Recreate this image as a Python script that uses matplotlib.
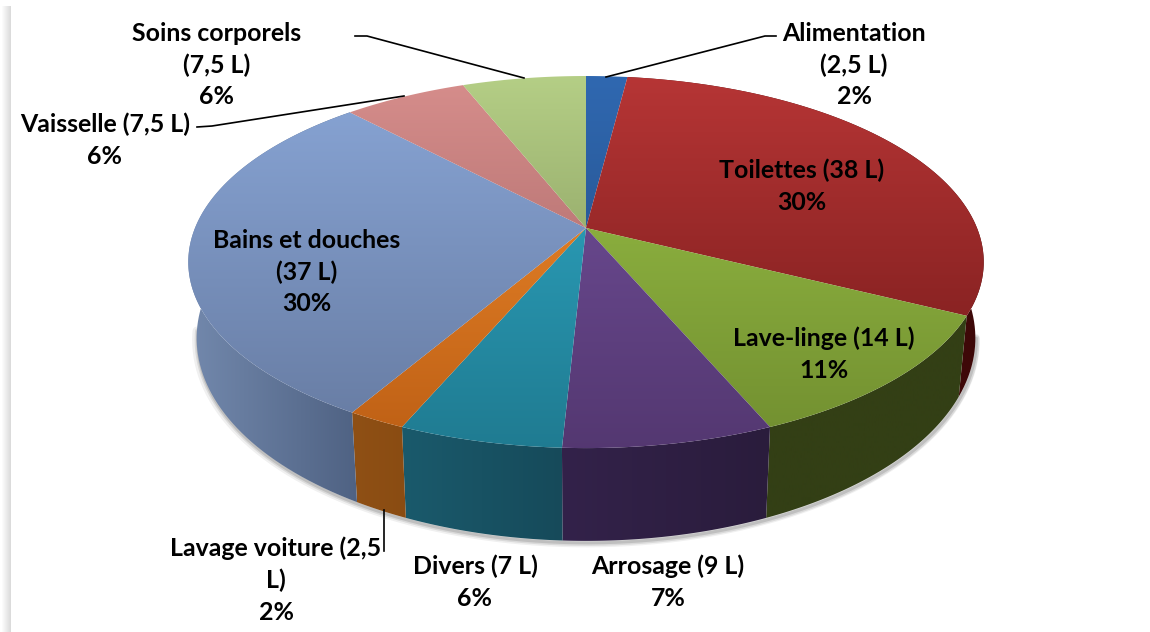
import numpy as np
import matplotlib
matplotlib.use("Agg")
import matplotlib.pyplot as plt
from matplotlib.patches import Polygon
from matplotlib.colors import to_rgb

# ---- data ----
categories = ["Alimentation", "Toilettes", "Lave-linge", "Arrosage", "Divers",
              "Lavage voiture", "Bains et douches", "Vaisselle", "Soins corporels"]
litres = [2.5, 38, 14, 9, 7, 2.5, 37, 7.5, 7.5]
labels = ["Alimentation\n(2,5 L)\n2%", "Toilettes (38 L)\n30%", "Lave-linge (14 L)\n11%",
          "Arrosage (9 L)\n7%", "Divers (7 L)\n6%", "Lavage voiture (2,5\nL)\n2%",
          "Bains et douches\n(37 L)\n30%", "Vaisselle (7,5 L)\n6%", "Soins corporels\n(7,5 L)\n6%"]

# ---- styles / layout ----
top_hi = ["#3069b2", "#b83636", "#9cc448", "#75529f", "#30acc9", "#f59030", "#8aa7d8", "#d88f8d", "#b6d087"]
top_lo = ["#1f4578", "#701818", "#708d2f", "#533770", "#1f7a90", "#bc5e14", "#65799f", "#9a5c5c", "#75864f"]
side_l = ["#2a4a78", "#5a0d0d", "#333f15", "#33224a", "#1a5a6c", "#8f5015", "#7389ad", "#7a4a4a", "#6a7a48"]
side_r = ["#2a4a78", "#3d0808", "#333f15", "#2a1c3c", "#164a5a", "#8a4c12", "#4f6283", "#7a4a4a", "#6a7a48"]
label_xy = [(854, 65), (802, 186), (824, 354), (668, 582), (475, 582), (276, 580), (307, 272), (105, 140), (217, 65)]
leaders = [[(776, 36), (765, 36), (606, 77)], [(355, 36), (367, 36), (524, 78)],
           [(197, 127), (212, 126), (404, 96)], [(384, 551), (384, 510)]]
W, H = 1150, 632
CX, CY, A, B, K = 586.0, 228.0, 391.0, 179.8, 0.183
SX, SY, DY = 0.979, 1.09, 73.0
Y0, Y1 = 76.0, 448.0

plt.rcParams["font.family"] = ["Lato", "DejaVu Sans"]
fig = plt.figure(figsize=(W / 100, H / 100), dpi=100, facecolor="white")
ax = fig.add_axes([0, 0, 1, 1])


def top_pt(t):
    x, y = np.sin(t), np.cos(t)
    d = 1 + K * y
    return A * x / d, -B * y / d


def top_xy(t):
    X, Y = top_pt(t)
    return CX + X, CY + Y


def bot_xy(t):
    X, Y = top_pt(t)
    return CX + X * SX, CY + Y * SY + DY


def grad_clip(poly, c0, c1, horizontal=False):
    xs, ys = poly[:, 0], poly[:, 1]
    c0, c1 = np.array(to_rgb(c0)), np.array(to_rgb(c1))
    if horizontal:
        f = np.linspace(0, 1, 64)[None, :, None]
        img = c0 + (c1 - c0) * f
        ext = (xs.min() - 2, xs.max() + 2, H, 0)
    else:
        f = np.linspace(0, 1, 256)[:, None, None]
        img = c0 + (c1 - c0) * f
        ext = (0, W, Y1 + 10, Y0 - 10)
    im = ax.imshow(img, extent=ext, aspect="auto", interpolation="bilinear", zorder=3)
    p = Polygon(poly, closed=True, transform=ax.transData, facecolor="none", edgecolor="none")
    ax.add_patch(p)
    im.set_clip_path(p)


vals = np.array(litres, dtype=float)
edges = np.concatenate([[0], np.cumsum(vals)]) / vals.sum() * 2 * np.pi

# soft shadow beneath the lower rim
tt = np.linspace(np.radians(100), np.radians(262), 200)
bx, by = bot_xy(tt)
for w, al in zip([9, 6, 3], [0.06, 0.09, 0.12]):
    ax.plot(bx + (1 if w < 9 else 0), by + 2, color="black", lw=w * 0.72, alpha=al, zorder=2, solid_capstyle="round")

# side faces (front half only shows; top faces cover the rest)
for i in range(len(vals)):
    t = np.linspace(edges[i], edges[i + 1], 80)
    tx, ty = top_xy(t)
    bx, by = bot_xy(t)
    poly = np.column_stack([np.concatenate([tx, bx[::-1]]), np.concatenate([ty, by[::-1]])])
    if 0.5 * np.pi < edges[i + 1] and edges[i] < 1.6 * np.pi:
        grad_clip(poly, side_l[i], side_r[i], horizontal=True)

# top faces
for i in range(len(vals)):
    t = np.linspace(edges[i], edges[i + 1], 120)
    tx, ty = top_xy(t)
    poly = np.column_stack([np.concatenate([[CX], tx]), np.concatenate([[CY], ty])])
    grad_clip(poly, top_hi[i], top_lo[i])

# leader lines
for seg in leaders:
    pts = np.array(seg)
    ax.plot(pts[:, 0], pts[:, 1], color="black", lw=1.2, zorder=5)

# text
for s, (x, y) in zip(labels, label_xy):
    ax.text(x, y, s, ha="center", va="center", fontsize=17.9, fontweight="bold",
            color="black", linespacing=1.45, zorder=6)

# faint shaded page edge at left
edge = np.ones((1, 10, 3)) * np.linspace(1, 0.86, 10)[None, :, None]
ax.imshow(edge, extent=(1, 11, H, 6), aspect="auto", zorder=1)

ax.set_xlim(0, W)
ax.set_ylim(H, 0)
ax.axis("off")
fig.savefig("out.png", dpi=100, facecolor="white")
